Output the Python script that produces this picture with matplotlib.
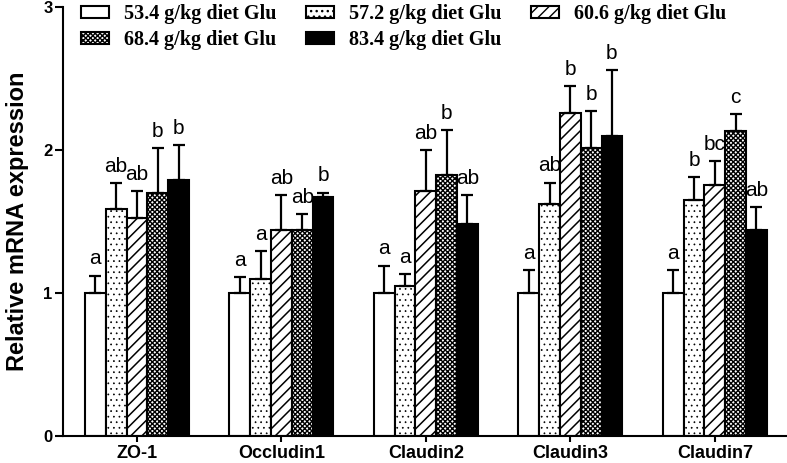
import matplotlib
matplotlib.use("Agg")
import matplotlib.pyplot as plt
import numpy as np

genes = ["ZO-1", "Occludin1", "Claudin2", "Claudin3", "Claudin7"]
groups = ["53.4 g/kg diet Glu", "57.2 g/kg diet Glu", "60.6 g/kg diet Glu",
          "68.4 g/kg diet Glu", "83.4 g/kg diet Glu"]

# mean values per diet group (one list per group, across genes)
g534 = [1.00, 1.00, 1.00, 1.00, 1.00]
g572 = [1.585, 1.095, 1.05, 1.62, 1.65]
g606 = [1.525, 1.44, 1.71, 2.26, 1.75]
g684 = [1.70, 1.44, 1.82, 2.01, 2.13]
g834 = [1.79, 1.67, 1.48, 2.095, 1.44]

# upper error (SE) per diet group
e534 = [0.12, 0.11, 0.19, 0.16, 0.16]
e572 = [0.18, 0.195, 0.08, 0.15, 0.16]
e606 = [0.185, 0.24, 0.29, 0.185, 0.17]
e684 = [0.31, 0.11, 0.32, 0.26, 0.12]
e834 = [0.24, 0.03, 0.20, 0.465, 0.16]

# significance letters
l534 = ["a", "a", "a", "a", "a"]
l572 = ["ab", "a", "a", "ab", "b"]
l606 = ["ab", "ab", "ab", "b", "bc"]
l684 = ["b", "ab", "b", "b", "c"]
l834 = ["b", "b", "ab", "b", "ab"]

means = [g534, g572, g606, g684, g834]
errs = [e534, e572, e606, e684, e834]
letters = [l534, l572, l606, l684, l834]

faces = ["white", "white", "white", "white", "black"]
hatches = [None, "...", "///", "xxxxxxx", None]
hatch_lw = [1.0, 0.5, 1.1, 1.0, 1.0]

plt.rcParams["font.family"] = ["Liberation Sans", "DejaVu Sans"]

fig = plt.figure(figsize=(7.87, 4.63), dpi=100)
ax = fig.add_axes([63 / 787, 27.3 / 463, 1 - 63 / 787, (435.7 - 6.7) / 463])

x = np.arange(len(genes))
w = 0.144
handles = []
for i in range(5):
    plt.rcParams["hatch.linewidth"] = hatch_lw[i]
    xs = x + (i - 2) * w
    bars = ax.bar(xs, means[i], width=w, color=faces[i], edgecolor="black",
                  linewidth=1.5, hatch=hatches[i], label=groups[i], zorder=2)
    handles.append(bars)
    ax.errorbar(xs, means[i], yerr=[np.zeros(5), errs[i]], fmt="none",
                ecolor="black", elinewidth=1.6, capsize=4, capthick=1.6, zorder=3)
    for xx, m, e, t in zip(xs, means[i], errs[i], letters[i]):
        ax.annotate(t, (xx, m + e), xytext=(0, 8), textcoords="offset points",
                    ha="center", va="baseline", fontsize=15)

ax.set_ylim(0, 3)
ax.set_xlim(-0.512, 4.5)
ax.set_yticks([0, 1, 2, 3])
ax.set_xticks(x)
ax.set_xticklabels(genes, fontsize=13, fontweight="bold")
for lab in ax.get_yticklabels():
    lab.set_fontsize(12)
    lab.set_fontweight("bold")
ax.tick_params(axis="y", length=6, width=1.5, pad=1.5, direction="out")
ax.tick_params(axis="x", length=4, width=1.5, pad=3, direction="out")
ax.spines["top"].set_visible(False)
ax.spines["right"].set_visible(False)
ax.spines["left"].set_linewidth(1.5)
ax.spines["bottom"].set_linewidth(1.5)
ax.set_ylabel("Relative mRNA expression", fontsize=17, fontweight="bold", labelpad=10)

order = [0, 3, 1, 4, 2]
leg = fig.legend([handles[k] for k in order], [groups[k] for k in order],
                 loc="upper left", bbox_to_anchor=(81 / 787, 1 - 4 / 463),
                 ncol=3, frameon=False, borderpad=0, borderaxespad=0,
                 handlelength=1.4, handleheight=0.55, handletextpad=0.75,
                 columnspacing=1.45, labelspacing=0.3,
                 prop={"family": "Liberation Serif", "weight": "bold", "size": 14.5})

fig.savefig("out.png", dpi=100)
